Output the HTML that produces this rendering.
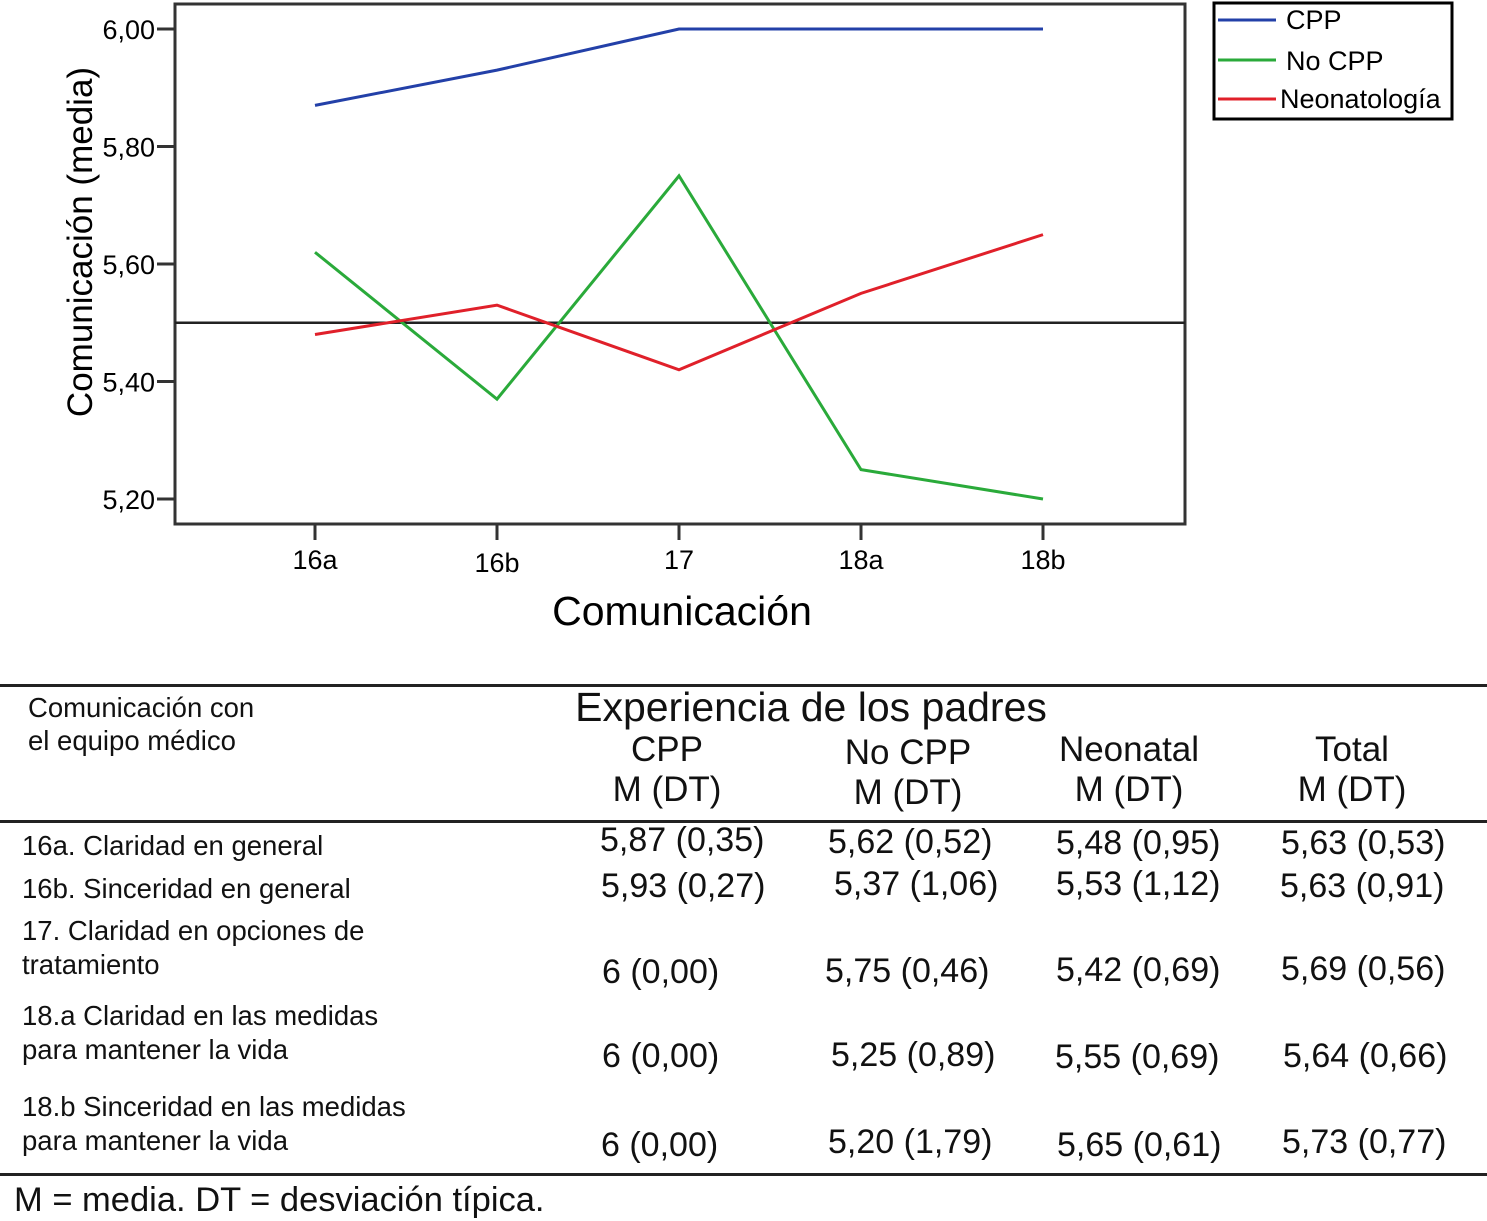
<!DOCTYPE html>
<html><head><meta charset="utf-8"><style>
body{margin:0;width:1487px;height:1221px;background:#fff;position:relative;overflow:hidden;font-family:"Liberation Sans",Arial,sans-serif;color:#111}
.t{position:absolute;white-space:nowrap;line-height:1}
.rl{font-size:27.5px}
.v{font-size:34px}
.h{font-size:35px;text-align:center;transform:translateX(-50%);line-height:1.15}
</style></head><body>
<svg id="chart" width="1487" height="650" style="position:absolute;left:0;top:0">
<rect x="175" y="4" width="1010" height="520" fill="#fff" stroke="#333" stroke-width="3"/>
<g id="yticks"></g><g id="xticks"></g>
<line id="ref" x1="175" x2="1185" stroke="#222" stroke-width="2.5"/>
<g id="series"></g>
<text transform="translate(92,242) rotate(-90)" text-anchor="middle" font-size="35" font-family="Liberation Sans, sans-serif">Comunicación (media)</text>
<text x="682" y="625" text-anchor="middle" font-size="41" font-family="Liberation Sans, sans-serif">Comunicación</text>
<g>
<rect x="1214" y="3" width="238" height="116" fill="#fff" stroke="#000" stroke-width="3"/>
<line x1="1218" x2="1276" y1="20" y2="20" stroke="#2340a8" stroke-width="3"/>
<text x="1286" y="29" font-size="27" font-family="Liberation Sans, sans-serif">CPP</text>
<line x1="1218" x2="1276" y1="60" y2="60" stroke="#2aaa3a" stroke-width="3"/>
<text x="1286" y="70" font-size="27" font-family="Liberation Sans, sans-serif">No CPP</text>
<line x1="1218" x2="1276" y1="99" y2="99" stroke="#e0202a" stroke-width="3"/>
<text x="1280" y="108" font-size="27" font-family="Liberation Sans, sans-serif">Neonatología</text>
</g>
</svg>
<script>
const categories=["16a","16b","17","18a","18b"];
const cpp=[5.87,5.93,6.00,6.00,6.00];
const noCpp=[5.62,5.37,5.75,5.25,5.20];
const neo=[5.48,5.53,5.42,5.55,5.65];
const yTicks=[5.20,5.40,5.60,5.80,6.00];
const refValue=5.50;
const NS="http://www.w3.org/2000/svg";
function y(v){return 29+(6.0-v)*587.5;}
function x(i){return 315+i*182;}
const yt=document.getElementById('yticks');
yTicks.forEach(v=>{
 const l=document.createElementNS(NS,'line');
 
 
 l.setAttribute('x1',157);l.setAttribute('x2',175);l.setAttribute('y1',y(v));l.setAttribute('y2',y(v));l.setAttribute('stroke','#333');l.setAttribute('stroke-width',3);yt.appendChild(l);
 const t=document.createElementNS(NS,'text');
 
 
 t.setAttribute('x',155);t.setAttribute('y',y(v)+10);t.setAttribute('text-anchor','end');t.setAttribute('font-size',27);t.setAttribute('font-family','Liberation Sans, sans-serif');t.textContent=v.toFixed(2).replace('.',',');yt.appendChild(t);
});
const xt=document.getElementById('xticks');
categories.forEach((c,i)=>{
 const l=document.createElementNS(NS,'line');
 
 
 l.setAttribute('x1',x(i));l.setAttribute('x2',x(i));l.setAttribute('y1',524);l.setAttribute('y2',540);l.setAttribute('stroke','#333');l.setAttribute('stroke-width',3);xt.appendChild(l);
 const t=document.createElementNS(NS,'text');
 
 
 t.setAttribute('x',x(i));t.setAttribute('y',i==1?572:569);t.setAttribute('text-anchor','middle');t.setAttribute('font-size',27);t.setAttribute('font-family','Liberation Sans, sans-serif');t.textContent=c;xt.appendChild(t);
});
const r=document.getElementById('ref');r.setAttribute('y1',y(refValue));r.setAttribute('y2',y(refValue));
const sg=document.getElementById('series');
[[cpp,'#2340a8','line-cpp'],[noCpp,'#2aaa3a','line-no-cpp'],[neo,'#e0202a','line-neonatologia']].forEach(([d,c,n])=>{
 const p=document.createElementNS(NS,'polyline');
 
 
 p.setAttribute('points',d.map((v,i)=>x(i)+','+y(v)).join(' '));p.setAttribute('fill','none');p.setAttribute('stroke',c);p.setAttribute('stroke-width',3);sg.appendChild(p);
});
</script>
<div style="position:absolute;left:0;top:684px;width:1487px;height:3px;background:#222"></div>
<div style="position:absolute;left:0;top:820px;width:1487px;height:3px;background:#222"></div>
<div style="position:absolute;left:0;top:1173px;width:1487px;height:3px;background:#222"></div>
<div class="t rl" style="left:28px;top:694px">Comunicación con</div>
<div class="t rl" style="left:28px;top:727px">el equipo médico</div>
<div class="t" style="left:811px;top:687px;font-size:41px;transform:translateX(-50%)">Experiencia de los padres</div>
<div class="t h" style="left:667px;top:730px">CPP<br>M (DT)</div>
<div class="t h" style="left:908px;top:733px">No CPP<br>M (DT)</div>
<div class="t h" style="left:1129px;top:730px">Neonatal<br>M (DT)</div>
<div class="t h" style="left:1352px;top:730px">Total<br>M (DT)</div>

<div class="t rl" style="left:22px;top:832px">16a. Claridad en general</div>
<div class="t rl" style="left:22px;top:875px">16b. Sinceridad en general</div>
<div class="t rl" style="left:22px;top:917px">17. Claridad en opciones de</div>
<div class="t rl" style="left:22px;top:951px">tratamiento</div>
<div class="t rl" style="left:22px;top:1002px">18.a Claridad en las medidas</div>
<div class="t rl" style="left:22px;top:1036px">para mantener la vida</div>
<div class="t rl" style="left:22px;top:1093px">18.b Sinceridad en las medidas</div>
<div class="t rl" style="left:22px;top:1127px">para mantener la vida</div>

<div class="t v" style="left:600px;top:823px">5,87 (0,35)</div>
<div class="t v" style="left:828px;top:825px">5,62 (0,52)</div>
<div class="t v" style="left:1056px;top:826px">5,48 (0,95)</div>
<div class="t v" style="left:1281px;top:826px">5,63 (0,53)</div>

<div class="t v" style="left:601px;top:869px">5,93 (0,27)</div>
<div class="t v" style="left:834px;top:867px">5,37 (1,06)</div>
<div class="t v" style="left:1056px;top:867px">5,53 (1,12)</div>
<div class="t v" style="left:1280px;top:869px">5,63 (0,91)</div>

<div class="t v" style="left:602px;top:955px">6 (0,00)</div>
<div class="t v" style="left:825px;top:954px">5,75 (0,46)</div>
<div class="t v" style="left:1056px;top:953px">5,42 (0,69)</div>
<div class="t v" style="left:1281px;top:952px">5,69 (0,56)</div>

<div class="t v" style="left:602px;top:1039px">6 (0,00)</div>
<div class="t v" style="left:831px;top:1038px">5,25 (0,89)</div>
<div class="t v" style="left:1055px;top:1040px">5,55 (0,69)</div>
<div class="t v" style="left:1283px;top:1039px">5,64 (0,66)</div>

<div class="t v" style="left:601px;top:1128px">6 (0,00)</div>
<div class="t v" style="left:828px;top:1125px">5,20 (1,79)</div>
<div class="t v" style="left:1057px;top:1128px">5,65 (0,61)</div>
<div class="t v" style="left:1282px;top:1125px">5,73 (0,77)</div>

<div class="t" style="left:14px;top:1183px;font-size:34.5px">M = media. DT = desviación típica.</div>
</body></html>
